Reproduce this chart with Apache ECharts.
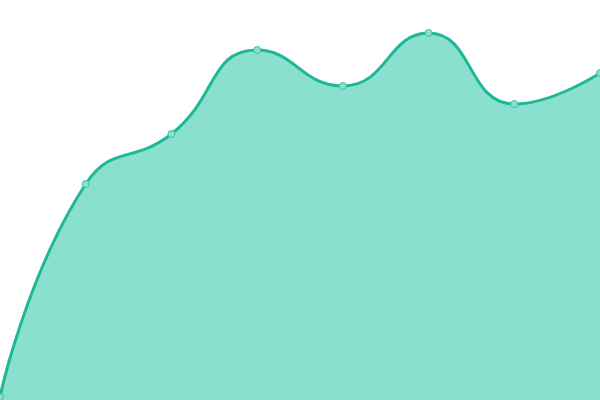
<!DOCTYPE html>
<html><head><meta charset="utf-8">
<script src="https://cdn.jsdelivr.net/npm/echarts@6/dist/echarts.min.js"></script>
<style>html,body{margin:0;padding:0;background:#fff}#c{width:600px;height:400px}</style>
</head><body><div id="c"></div>
<script>
var categories = ['1', '2', '3', '4', '5', '6', '7', '8'];
var values = [3, 216, 266, 350, 314, 367, 296, 327];
var chart = echarts.init(document.getElementById('c'));
chart.setOption({
  animation: false,
  grid: { left: 0, right: 0, top: 0, bottom: 0 },
  xAxis: { type: 'category', data: categories, boundaryGap: false, show: false },
  yAxis: { type: 'value', min: 0, max: 400, show: false },
  series: [{
    type: 'line',
    data: values,
    smooth: 0.5,
    symbol: 'circle',
    symbolSize: 7,
    itemStyle: { color: '#8ae0ce', borderColor: '#3cc3a6', borderWidth: 1 },
    lineStyle: { color: '#1fb896', width: 3 },
    areaStyle: { color: '#89e0ce', opacity: 1 }
  }]
});
</script></body></html>
